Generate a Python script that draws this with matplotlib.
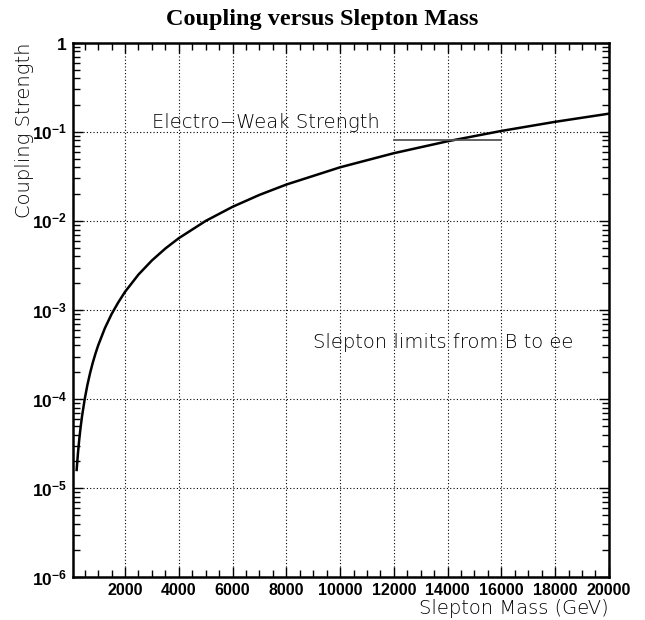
import numpy as np
import matplotlib
matplotlib.use("Agg")
import matplotlib.pyplot as plt
from matplotlib.ticker import FixedLocator, FuncFormatter, LogLocator, NullFormatter

# values
mass = [200, 250, 300, 350, 400, 500, 600, 700, 800, 900, 1000, 1250, 1500,
        1750, 2000, 2500, 3000, 3500, 4000, 5000, 6000, 7000, 8000, 10000,
        12000, 14000, 16000, 18000, 20000]
coupling = [1.6e-5, 2.5e-5, 3.6e-5, 4.9e-5, 6.4e-5, 1.0e-4, 1.44e-4, 1.96e-4,
            2.56e-4, 3.24e-4, 4.0e-4, 6.25e-4, 9.0e-4, 1.22e-3, 1.6e-3, 2.5e-3,
            3.6e-3, 4.9e-3, 6.4e-3, 1.0e-2, 1.44e-2, 1.96e-2, 2.56e-2, 4.0e-2,
            5.76e-2, 7.84e-2, 0.1024, 0.1296, 0.16]
ew_mass = [12000, 16000]
ew_strength = [0.08, 0.08]
x_ticks = [2000, 4000, 6000, 8000, 10000, 12000, 14000, 16000, 18000, 20000]
y_ticks = [1e-6, 1e-5, 1e-4, 1e-3, 1e-2, 1e-1, 1]

plt.rcParams['mathtext.fontset'] = 'custom'
plt.rcParams['mathtext.bf'] = 'Liberation Sans:bold'
plt.rcParams['mathtext.rm'] = 'Liberation Sans'

thin = dict(family='DejaVu Sans', fontweight=200, color='black')

fig = plt.figure(figsize=(6.45, 6.2), dpi=100)
ax = fig.add_axes([0.113, 0.069, 0.831, 0.862])

ax.plot(mass, coupling, color='black', linewidth=1.8)
ax.plot(ew_mass, ew_strength, color='#555555', linewidth=1.3)

ax.set_yscale('log')
ax.set_xlim(60, 20000)
ax.set_ylim(1e-6, 1)

ax.xaxis.set_major_locator(FixedLocator(x_ticks))
ax.xaxis.set_minor_locator(FixedLocator(np.arange(500, 20000, 500)))
ax.yaxis.set_major_locator(FixedLocator(y_ticks))
ax.yaxis.set_minor_locator(LogLocator(base=10, subs=np.arange(2, 10)))
ax.yaxis.set_minor_formatter(NullFormatter())


def ylab(v, pos):
    e = int(round(np.log10(v)))
    if e == 0:
        return r'$\mathbf{1}$'
    return r'$\mathbf{10^{%d}}$' % e


ax.yaxis.set_major_formatter(FuncFormatter(ylab))
ax.tick_params(axis='x', labelsize=11.5)
ax.tick_params(axis='y', labelsize=12.5)
ax.tick_params(which='both', direction='in', top=True, right=True, width=1.0)
ax.tick_params(which='major', length=7, pad=4)
ax.tick_params(which='minor', length=5)
for lab in ax.get_xticklabels():
    lab.set_family('Liberation Sans')
    lab.set_fontweight('bold')

for s in ax.spines.values():
    s.set_linewidth(1.8)

ax.grid(True, which='major', color='black', linestyle=(0, (1, 2)), linewidth=0.8)

ax.text(3000, 0.1, 'Electro\u2212Weak Strength', fontsize=14, va='bottom', **thin)
ax.text(9000, 3.7e-4, 'Slepton limits from B to ee', fontsize=14, va='baseline', **thin)

ax.set_xlabel('Slepton Mass (GeV)', fontsize=14, loc='right', labelpad=1, **thin)
ax.set_ylabel('Coupling Strength', fontsize=14, loc='top', labelpad=-1.5, **thin)
fig.suptitle('Coupling versus Slepton Mass', family='Liberation Serif',
             fontweight='bold', fontsize=17.5, y=0.986)

fig.savefig('out.png', dpi=100)
